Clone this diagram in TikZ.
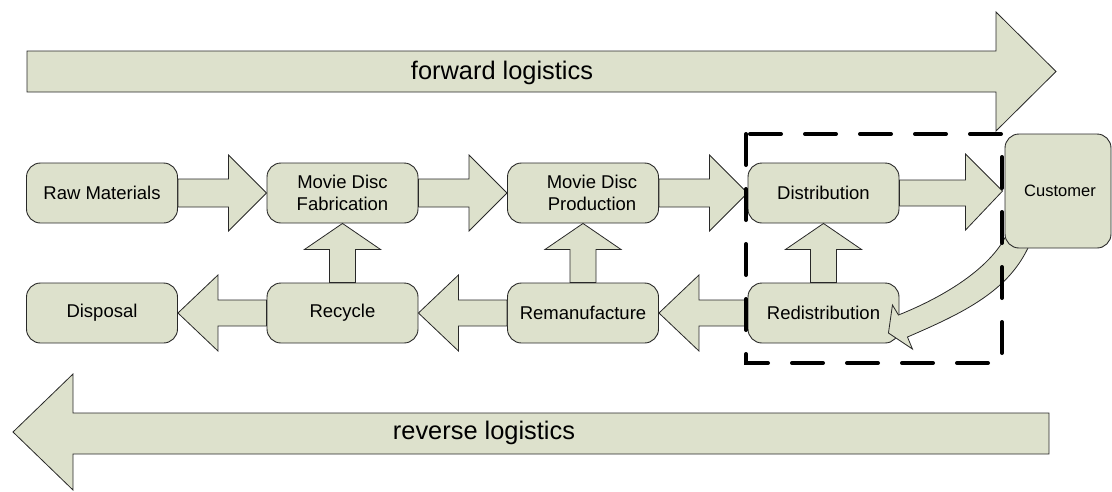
\documentclass[tikz,border=0pt]{standalone}
\usepackage{fontspec}
\setmainfont{Liberation Sans}
\usetikzlibrary{calc}
\definecolor{boxfill}{RGB}{221,225,204}
\definecolor{edge}{RGB}{40,40,40}
\pgfdeclarelayer{front}
\pgfsetlayers{main,front}

\tikzset{
  stage/.style={draw=edge, line width=0.9pt, fill=boxfill, rounded corners=14pt,
    minimum width=151pt, minimum height=60pt, inner sep=0pt, align=center,
    font=\fontsize{18.5}{22}\selectfont},
  blockarrow/.style={draw=edge, line width=0.8pt, fill=boxfill, line join=miter},
  banner/.style={inner sep=0pt, font=\fontsize{25.4}{30}\selectfont},
  zone/.style={draw=black, line width=4pt, dash pattern=on 31pt off 24pt, line cap=round},
}

% block arrow pointing right, from the east side of #1 to the west side of #2
\newcommand\flowright[2]{%
  \draw[blockarrow] let \p1=(#1.east), \p2=(#2.west) in
    (\x1,\y2+14pt) -- (\x2-38pt,\y2+14pt) -- (\x2-38pt,\y2+38pt) -- (\x2,\y2)
    -- (\x2-38pt,\y2-38pt) -- (\x2-38pt,\y2-14pt) -- (\x1,\y2-14pt) -- cycle;}
% block arrow pointing left, from the west side of #1 to the east side of #2
\newcommand\flowleft[2]{%
  \draw[blockarrow] let \p1=(#1.west), \p2=(#2.east) in
    (\x1,\y2+13pt) -- (\x2+40pt,\y2+13pt) -- (\x2+40pt,\y2+38pt) -- (\x2,\y2)
    -- (\x2+40pt,\y2-38pt) -- (\x2+40pt,\y2-13pt) -- (\x1,\y2-13pt) -- cycle;}
% block arrow pointing up, from the north side of #1 to the south side of #2
\newcommand\flowup[2]{%
  \draw[blockarrow] let \p1=(#1.north), \p2=(#2.south) in
    (\x2-13pt,\y1) -- (\x2-13pt,\y2-26pt) -- (\x2-38pt,\y2-26pt) -- (\x2,\y2)
    -- (\x2+38pt,\y2-26pt) -- (\x2+13pt,\y2-26pt) -- (\x2+13pt,\y1) -- cycle;}

\begin{document}
\begin{tikzpicture}[x=1pt, y=-1pt]
\useasboundingbox (0,0) rectangle (1112,491);

% forward logistics banner
\draw[blockarrow] (27,51) -- (996,51) -- (996,12) -- (1056,71.5) -- (996,131)
  -- (996,92) -- (27,92) -- cycle;
\node[banner] (fwd) at (502,72.5) {forward logistics};

% reverse logistics banner
\draw[blockarrow] (1049,413) -- (73,413) -- (73,374) -- (13,432) -- (73,490)
  -- (73,454) -- (1049,454) -- cycle;
\node[banner] (rev) at (484,432.5) {reverse logistics};

% supply chain stages
\node[stage] (raw)   at (102,193)   {Raw Materials};
\node[stage] (fab)   at (342.5,193) {Movie Disc\\Fabrication};
\node[stage] (prod)  at (583,193)   {\hspace*{18pt}Movie Disc\\\hspace*{18pt}Production};
\node[stage] (dist)  at (823.5,193) {Distribution};
\node[stage] (disp)  at (102,313)   {Disposal};
\node[stage] (recy)  at (342.5,313) {Recycle};
\node[stage] (reman) at (583,313)   {Remanufacture};
\node[stage] (redis) at (823.5,313) {Redistribution};
\begin{pgfonlayer}{front}
  \node[stage, minimum width=106pt, minimum height=114pt,
        font=\fontsize{16.5}{20}\selectfont] (cust) at (1058,191) {\hspace*{4pt}Customer};
\end{pgfonlayer}

% forward flow
\flowright{raw}{fab}
\flowright{fab}{prod}
\flowright{prod}{dist}
\draw[blockarrow] let \p1=(dist.east), \p2=(cust.west) in
  (\x1,\y2+11pt) -- (\x2-39pt,\y2+11pt) -- (\x2-39pt,\y2+37pt) -- (\x2-2pt,\y2)
  -- (\x2-39pt,\y2-39pt) -- (\x2-39pt,\y2-15pt) -- (\x1,\y2-15pt) -- cycle;

% reverse flow
\flowleft{recy}{disp}
\flowleft{reman}{recy}
\flowleft{redis}{reman}
\flowup{recy}{fab}
\flowup{reman}{prod}
\flowup{redis}{dist}

% returns from the customer
\draw[blockarrow]
  ($(cust.south west)+(3,-16)$)
    .. controls ($(cust.south west)+(-10,14)$) and ($(cust.south west)+(-50,44)$) ..
  ($(redis.east)+(-1,2)$) -- ($(redis.east)+(-7,-8)$) -- ($(redis.east)+(-11,20)$)
  -- ($(redis.east)+(13,36)$) -- ($(redis.east)+(8,24)$)
    .. controls ($(cust.south west)+(-40,64)$) and ($(cust.south west)+(5,42)$) ..
  ($(cust.south west)+(25,-4)$) -- cycle;

% boundary of the distribution stage
\begin{pgfonlayer}{front}
  \draw[zone] (746,134) rectangle (1002,363);
\end{pgfonlayer}
\end{tikzpicture}
\end{document}
